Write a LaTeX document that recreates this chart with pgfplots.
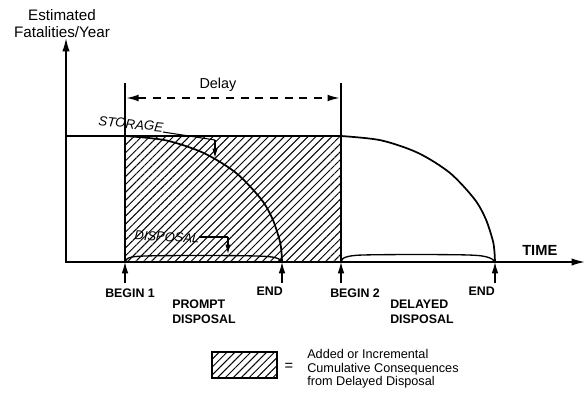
\documentclass[border=0pt]{standalone}
\usepackage{pgfplots}
\pgfplotsset{compat=1.18}
\usepackage{fontspec}
\setmainfont{Liberation Sans}
\usetikzlibrary{arrows.meta,patterns.meta}

\begin{document}
\begin{tikzpicture}
\begin{axis}[
  scale only axis, width=439.5pt, height=303.75pt,
  xmin=0,xmax=586,ymin=0,ymax=405,
  hide axis, clip=false,
]
\path (axis cs:0,0) rectangle (axis cs:586,405);
% hatched region (added consequences from delay)
\addplot[draw=none, pattern={Lines[angle=45,distance=4.2pt,line width=0.75pt]}]
  coordinates {(125,143)(341,143)(341,269)(125,269)} -- cycle;

% axes
\draw[line width=1.2pt, -{Latex[length=10pt,width=5.5pt]}] (axis cs:66,142.5) -- (axis cs:66,367);
\draw[line width=1.2pt, -{Latex[length=10pt,width=5.5pt]}] (axis cs:65.5,143) -- (axis cs:585,143);

% storage level
\addplot[line width=1.3pt] coordinates {(66,269)(341,269)};
% prompt storage curve
\addplot[line width=1.3pt, smooth] coordinates {
 (125,269)(165.6,264.7)(203.5,252.1)(236.0,232.1)(261.0,206.0)(272.5,186.1)(279.6,164.9)(281.4,154.0)(282,143)};
% delayed storage curve
\addplot[line width=1.3pt, smooth] coordinates {
 (341,269)(380.9,264.7)(418.0,252.1)(449.9,232.1)(474.4,206.0)(485.7,186.1)(492.7,164.9)(494.4,154.0)(495,143)};
% disposal curves
\addplot[line width=1.0pt, smooth] coordinates {
 (125,143)(127,146)(131,147.8)(140,148.8)(160,149.3)(200,149.5)(240,149.3)(262,148.8)(273,147.8)(279,146)(282,143)};
\addplot[line width=1.0pt, smooth] coordinates {
 (341,143)(343,146.5)(348,148.5)(358,149.8)(380,150.3)(420,150.5)(460,150.2)(478,149.5)(487,148)(492,146)(495,143)};

% begin lines
\addplot[line width=1.3pt] coordinates {(125,143)(125,322)};
\addplot[line width=1.3pt] coordinates {(341,143)(341,322)};

% delay arrow
\draw[line width=0.9pt, dash pattern=on 6pt off 5pt, {Latex[length=9pt,width=5pt]}-{Latex[length=9pt,width=5pt]}] (axis cs:126.5,307) -- (axis cs:339.5,307);
\node[font=\fontsize{10.8}{12}\selectfont] at (axis cs:218,320) {Delay};

% tick arrows
\draw[line width=1pt, -{Latex[length=8.5pt,width=5pt]}] (axis cs:125,122) -- (axis cs:125,143);
\draw[line width=1pt, -{Latex[length=8.5pt,width=5pt]}] (axis cs:282,122) -- (axis cs:282,143);
\draw[line width=1pt, -{Latex[length=8.5pt,width=5pt]}] (axis cs:341,122) -- (axis cs:341,143);
\draw[line width=1pt, -{Latex[length=8.5pt,width=5pt]}] (axis cs:495,122) -- (axis cs:495,143);

% labels
\node[font=\bfseries\fontsize{9.3}{11}\selectfont, anchor=base west, inner sep=0pt] at (axis cs:105,108) {BEGIN 1};
\node[font=\bfseries\fontsize{9.3}{11}\selectfont, anchor=base east, inner sep=0pt] at (axis cs:283,110) {END};
\node[font=\bfseries\fontsize{9.3}{11}\selectfont, anchor=base west, inner sep=0pt] at (axis cs:330,108) {BEGIN 2};
\node[font=\bfseries\fontsize{9.3}{11}\selectfont, anchor=base east, inner sep=0pt] at (axis cs:495,110) {END};
\node[font=\bfseries\fontsize{9.3}{11}\selectfont, anchor=base west, inner sep=0pt] at (axis cs:172,97) {PROMPT};
\node[font=\bfseries\fontsize{9.3}{11}\selectfont, anchor=base west, inner sep=0pt] at (axis cs:172,82) {DISPOSAL};
\node[font=\bfseries\fontsize{9.3}{11}\selectfont, anchor=base west, inner sep=0pt] at (axis cs:390,97) {DELAYED};
\node[font=\bfseries\fontsize{9.3}{11}\selectfont, anchor=base west, inner sep=0pt] at (axis cs:390,82) {DISPOSAL};
\node[font=\bfseries\fontsize{11}{12}\selectfont, anchor=base west, inner sep=0pt] at (axis cs:522,150) {TIME};

\node[font=\fontsize{11.4}{13}\selectfont, anchor=base, inner sep=0pt] at (axis cs:62,385) {Estimated};
\node[font=\fontsize{11.4}{13}\selectfont, anchor=base, inner sep=0pt] at (axis cs:62,368) {Fatalities/Year};

% STORAGE / DISPOSAL callouts
\node[font=\itshape\fontsize{10}{11}\selectfont, rotate=-6] at (axis cs:131,281) {STORAGE};
\draw[line width=0.8pt] (axis cs:163,273) -- (axis cs:215,265);
\draw[line width=0.8pt, -{Latex[length=7pt,width=4pt]}] (axis cs:215,265) -- (axis cs:215,247);
\node[font=\itshape\fontsize{9.7}{11}\selectfont, rotate=-3] at (axis cs:167,168) {DISPOSAL};
\draw[line width=0.8pt] (axis cs:199,168) -- (axis cs:228,168);
\draw[line width=0.8pt, -{Latex[length=7pt,width=4pt]}] (axis cs:228,168) -- (axis cs:228,151);

% legend
\draw[line width=0.9pt, pattern={Lines[angle=45,distance=4.2pt,line width=0.75pt]}] (axis cs:212,27) rectangle (axis cs:277,53);
\node[font=\fontsize{11}{12}\selectfont] at (axis cs:289,38) {=};
\node[font=\fontsize{9.5}{9.8}\selectfont, anchor=base west, inner sep=0pt] at (axis cs:307,47) {Added or Incremental};
\node[font=\fontsize{9.5}{9.8}\selectfont, anchor=base west, inner sep=0pt] at (axis cs:307,33) {Cumulative Consequences};
\node[font=\fontsize{9.5}{9.8}\selectfont, anchor=base west, inner sep=0pt] at (axis cs:307,20) {from Delayed Disposal};
\end{axis}
\end{tikzpicture}
\end{document}
